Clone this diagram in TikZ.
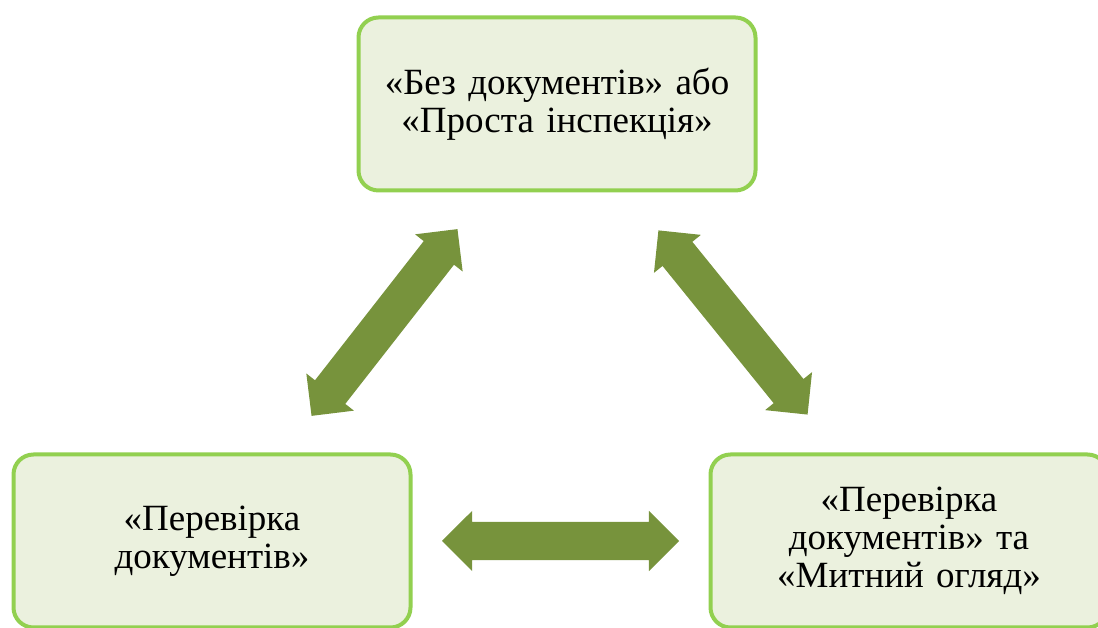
\documentclass[tikz,border=0pt]{standalone}
\usepackage{fontspec}
\setmainfont{Liberation Serif}[WordSpace=0.6]
\usepackage{tikz}
\usetikzlibrary{shapes.arrows, positioning, calc}

\definecolor{boxline}{HTML}{92D050}
\definecolor{boxfill}{HTML}{EBF1DE}
\definecolor{arrowfill}{HTML}{77933C}

\begin{document}
\begin{tikzpicture}[x=1pt, y=1pt,
    stage/.style={rectangle, draw=boxline, line width=4pt, fill=boxfill, rounded corners=20pt,
        minimum width=397pt, minimum height=173pt, text width=380pt, align=center,
        font=\fontsize{37}{38}\selectfont},
    fatarrow/.style={double arrow, fill=arrowfill, draw=none, inner xsep=0pt, inner ysep=19pt,
        minimum height=237pt, double arrow head extend=11pt, double arrow tip angle=90}]

    \useasboundingbox (0,0) rectangle (1098,628);

    \node (top) [stage] at (557,524) {«Без документів» або\\«Проста інспекція»};
    \node (lbox) [stage] at (212,87) {«Перевірка\\документів»};
    \node (rbox) [stage, right=296pt of lbox] {«Перевірка\\документів» та\\«Митний огляд»};

    % Links between the three kinds
    \node (arrL) [fatarrow, rotate=52] at ($(lbox.north east)!0.5!(top.south west)$) {};
    \node (arrR) [fatarrow, rotate=-51] at ($(top.south east)!0.5!(rbox.north west)$) {};
    \node (arrB) [fatarrow] at ($(lbox.east)!0.5!(rbox.west)$) {};

\end{tikzpicture}
\end{document}
